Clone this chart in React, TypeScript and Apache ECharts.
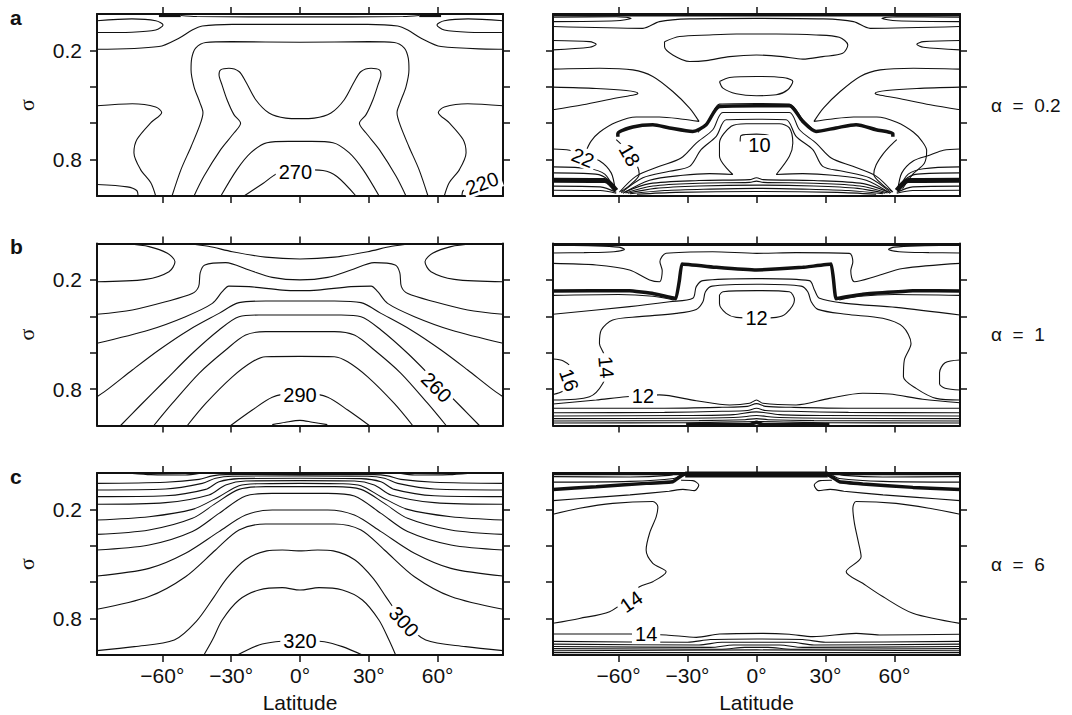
import React, { useEffect, useRef } from 'react';
import * as echarts from 'echarts';

type Pt = [number, number];
type Lab = { lat: number; sig: number; text: string; rot: number };
type Heavy = { pts: Pt[]; w: number; smooth?: number };

const FONT = '"Liberation Sans", Arial, Helvetica, sans-serif';

// ---- axes ----
const LAT_TICKS = [-60, -30, 0, 30, 60];
const SIGMA_TICKS = [0.2, 0.4, 0.6, 0.8];
const SIGMA_LABELS = [0.2, 0.8];
const PANEL_LETTERS = ['a', 'b', 'c'];
const ALPHA_LABELS = ['α  =  0.2', 'α  =  1', 'α  =  6'];

// ================= a, left (temperature) =================
const aL_top: Pt[] = [[-52, 0.008], [-45, 0.014], [0, 0.016], [45, 0.014], [52, 0.008]];
const aL_tongueW: Pt[] = [[-88.5, 0.037], [-73.3, 0.027], [-62.9, 0.037], [-59.7, 0.06], [-62.9, 0.088], [-73.3, 0.1], [-88.5, 0.102]];
const aL_tongueE: Pt[] = [[88.5, 0.037], [73.3, 0.027], [62.9, 0.037], [59.7, 0.06], [62.9, 0.088], [73.3, 0.1], [88.5, 0.102]];
const aL_upper: Pt[] = [[-88.5, 0.194], [-61.5, 0.179], [-52.8, 0.133], [-47, 0.088], [-42.6, 0.066], [-29.5, 0.057], [0, 0.057], [29.5, 0.057], [42.6, 0.066], [47, 0.088], [52.8, 0.133], [61.5, 0.179], [88.5, 0.194]];
const aL_meanderW: Pt[] = [[-88.5, 0.504], [-73.1, 0.493], [-62.9, 0.511], [-60.3, 0.541], [-65, 0.597], [-71.1, 0.69], [-72.4, 0.762], [-69.5, 0.855], [-65.1, 0.926], [-62.9, 1.0]];
const aL_meanderE: Pt[] = [[88.5, 0.504], [73.1, 0.493], [62.9, 0.511], [60.3, 0.541], [65, 0.597], [71.1, 0.69], [72.4, 0.762], [69.5, 0.855], [65.1, 0.926], [62.9, 1.0]];
const aL_loopW: Pt[] = [[-88.5, 0.937], [-75.3, 0.95], [-71.2, 0.97], [-70.6, 1.0]];
const aL_loopE: Pt[] = [[88.5, 0.937], [75.3, 0.95], [71.2, 0.97], [70.6, 1.0]];
const aL_arch: Pt[] = [[-55.8, 1.0], [-51.9, 0.855], [-47.5, 0.729], [-43.6, 0.608], [-42.3, 0.542], [-43.6, 0.488], [-46.2, 0.4], [-47.5, 0.307], [-47.2, 0.243], [-45.5, 0.188], [-41.1, 0.157], [-30, 0.152], [0, 0.155], [30, 0.152], [41.1, 0.157], [45.5, 0.188], [47.2, 0.243], [47.5, 0.307], [46.2, 0.4], [43.6, 0.488], [42.3, 0.542], [43.6, 0.608], [47.5, 0.729], [51.9, 0.855], [55.8, 1.0]];
const aL_x: Pt[] = [[-46.2, 1.0], [-41.9, 0.892], [-34.6, 0.745], [-28.8, 0.654], [-25.9, 0.6], [-28.8, 0.553], [-31.8, 0.471], [-34, 0.389], [-35.3, 0.334], [-34.6, 0.307], [-31, 0.298], [-26.6, 0.316], [-23.7, 0.371], [-19.3, 0.471], [-13.5, 0.544], [-6.2, 0.572], [0, 0.575], [6.2, 0.572], [13.5, 0.544], [19.3, 0.471], [23.7, 0.371], [26.6, 0.316], [31, 0.298], [34.6, 0.307], [35.3, 0.334], [34, 0.389], [31.8, 0.471], [28.8, 0.553], [25.9, 0.6], [28.8, 0.654], [34.6, 0.745], [41.9, 0.892], [46.2, 1.0]];
const aL_arch2: Pt[] = [[-34.5, 1.0], [-27.5, 0.855], [-21.4, 0.762], [-14.4, 0.707], [-5, 0.7], [5, 0.7], [14.4, 0.707], [21.4, 0.762], [27.5, 0.855], [34.5, 1.0]];
const aL_270: Pt[] = [[-24.4, 1.0], [-16, 0.93], [-10, 0.878], [0, 0.855], [10, 0.86], [16.1, 0.893], [24.4, 1.0]];
const aL_barW: Pt[] = [[-61.5, 0.006], [-52, 0.006]];
const aL_barE: Pt[] = [[52, 0.006], [61.5, 0.006]];
const aL_labels: Lab[] = [
  { lat: -2, sig: 0.866, text: '270', rot: 0 },
  { lat: 79.4, sig: 0.93, text: '220', rot: 20 },
];

// ================= a, right =================
const aR_topW: Pt[] = [[-88.5, 0.018], [-61, 0.015], [-54.5, 0.024], [-61, 0.037], [-88.5, 0.042]];
const aR_topE: Pt[] = [[88.5, 0.018], [61, 0.015], [54.5, 0.024], [61, 0.037], [88.5, 0.042]];
const aR_upper: Pt[] = [[-88.5, 0.069], [-49.4, 0.079], [-42.2, 0.042], [-29.1, 0.027], [0, 0.024], [29.1, 0.027], [42.2, 0.042], [49.4, 0.079], [88.5, 0.069]];
const aR_tongue1W: Pt[] = [[-88.5, 0.146], [-72.6, 0.152], [-69.7, 0.166], [-72.6, 0.183], [-88.5, 0.197]];
const aR_tongue1E: Pt[] = [[88.5, 0.146], [72.6, 0.152], [69.7, 0.166], [72.6, 0.183], [88.5, 0.197]];
const aR_cell: Pt[] = [[-40, 0.152], [-33.5, 0.124], [-20.4, 0.115], [-8.8, 0.11], [8.6, 0.11], [25.9, 0.115], [36, 0.128], [39.7, 0.17], [37.5, 0.216], [28.8, 0.234], [20.1, 0.248], [11.4, 0.234], [0, 0.225], [-11.7, 0.234], [-21.9, 0.256], [-29.1, 0.261], [-36.4, 0.225], [-40, 0.179], [-40, 0.152]];
const aR_cell2: Pt[] = [[-16.1, 0.371], [-11.7, 0.349], [0, 0.343], [11.4, 0.349], [15.8, 0.371], [13.6, 0.416], [8.6, 0.444], [0, 0.449], [-8.8, 0.438], [-14.6, 0.407], [-16.1, 0.371]];
const aR_tongue2W: Pt[] = [[-88.5, 0.402], [-69.7, 0.409], [-56.7, 0.42], [-51.6, 0.435], [-53, 0.444], [-61, 0.462], [-75.5, 0.499], [-88.5, 0.526]];
const aR_tongue2E: Pt[] = [[88.5, 0.402], [69.7, 0.409], [56.7, 0.42], [51.6, 0.435], [53, 0.444], [61, 0.462], [75.5, 0.499], [88.5, 0.526]];
const aR_bendW: Pt[] = [[-88.5, 0.303], [-68.3, 0.298], [-53.8, 0.307], [-45.1, 0.343], [-36.4, 0.426], [-29.1, 0.517], [-25, 0.59], [-32, 0.578], [-42.2, 0.566], [-52.3, 0.566], [-61, 0.595], [-68.3, 0.65], [-72, 0.7], [-74, 0.75]];
const aR_bendE: Pt[] = [[88.5, 0.303], [68.3, 0.298], [53.8, 0.307], [45.1, 0.343], [36.4, 0.426], [29.1, 0.517], [25, 0.59], [32, 0.578], [42.2, 0.566], [52.3, 0.566], [61, 0.595], [68.3, 0.65], [72, 0.7], [74, 0.75], [73, 0.82], [68, 0.88], [63.5, 0.96]];
const aR_22W: Pt[] = [[-88.5, 0.742], [-81.3, 0.749], [-75.5, 0.775], [-68.3, 0.806], [-63.2, 0.873], [-61.5, 0.964]];
const aR_22E: Pt[] = [[88.5, 0.742], [81.3, 0.749], [75.5, 0.775], [68.3, 0.806], [63.2, 0.873], [61.5, 0.964]];
const aR_18W: Pt[] = [[-61, 0.69], [-58.5, 0.72], [-55, 0.77], [-52, 0.83], [-51, 0.88], [-55, 0.94], [-59, 0.975]];
const aR_18E: Pt[] = [[61, 0.69], [58.5, 0.72], [55, 0.77], [52, 0.83], [51, 0.88], [55, 0.94], [59, 0.975]];
const aR_n0: Pt[] = [[-25.5, 0.65], [-20.4, 0.581], [-16.1, 0.495], [0, 0.492], [14.3, 0.495], [20.1, 0.581], [25.9, 0.65]];
const aR_n1: Pt[] = [[-59.6, 0.979], [-52.3, 0.891], [-42.2, 0.837], [-32.8, 0.791], [-26.2, 0.709], [-19, 0.636], [-14.6, 0.541], [0, 0.541], [14.3, 0.541], [18.7, 0.636], [25.9, 0.709], [32.5, 0.791], [41.9, 0.837], [52, 0.891], [59.3, 0.979]];
const aR_n2: Pt[] = [[-58.8, 0.983], [-49.4, 0.9], [-37.8, 0.864], [-29.1, 0.837], [-24.1, 0.745], [-17.5, 0.672], [-13.2, 0.581], [0, 0.578], [12.9, 0.581], [17.2, 0.672], [24.5, 0.745], [28.8, 0.837], [37.5, 0.864], [49.1, 0.9], [58.6, 0.983]];
const aR_n3: Pt[] = [[-58.1, 0.985], [-46.5, 0.913], [-32, 0.886], [-20.4, 0.877], [-10.3, 0.882], [-16.1, 0.782], [-16.1, 0.709], [-11, 0.617], [-4.5, 0.603], [0, 0.603], [10, 0.603], [14.3, 0.626], [15.8, 0.709], [14.3, 0.782], [8.6, 0.882], [20.1, 0.877], [33.2, 0.886], [47.7, 0.913], [58.1, 0.985]];
const aR_10: Pt[] = [[-7.1, 0.7], [-6.7, 0.668], [0, 0.66], [5.5, 0.668], [6.2, 0.69]];
const aR_h1: Pt[] = [[-57.5, 0.979], [-46.5, 0.932], [-25, 0.915], [-3, 0.91], [0, 0.9], [3, 0.91], [25, 0.915], [46.5, 0.932], [57.5, 0.979]];
const aR_h2: Pt[] = [[-57, 0.983], [-45, 0.945], [-25, 0.93], [-3, 0.925], [0, 0.918], [3, 0.925], [25, 0.93], [45, 0.945], [57, 0.983]];
const aR_h3: Pt[] = [[-56, 0.985], [-44, 0.958], [-25, 0.945], [0, 0.94], [25, 0.945], [44, 0.958], [56, 0.985]];
const aR_h4: Pt[] = [[-55, 0.988], [-40, 0.97], [-20, 0.962], [0, 0.958], [20, 0.962], [40, 0.97], [55, 0.988]];
const aR_h5: Pt[] = [[-52, 0.99], [-35, 0.98], [0, 0.975], [35, 0.98], [52, 0.99]];
const aR_f2W: Pt[] = [[-88.5, 0.84], [-72.6, 0.85], [-66, 0.88], [-62, 0.96]];
const aR_f3W: Pt[] = [[-88.5, 0.873], [-70, 0.88], [-64.5, 0.91], [-61.5, 0.97]];
const aR_f5W: Pt[] = [[-88.5, 0.946], [-68, 0.95], [-61, 0.98]];
const aR_f6W: Pt[] = [[-88.5, 0.968], [-68, 0.97], [-61, 0.985]];
const aR_f2E: Pt[] = [[88.5, 0.84], [72.6, 0.85], [66, 0.88], [62, 0.96]];
const aR_f3E: Pt[] = [[88.5, 0.873], [70, 0.88], [64.5, 0.91], [61.5, 0.97]];
const aR_f5E: Pt[] = [[88.5, 0.946], [68, 0.95], [61, 0.98]];
const aR_f6E: Pt[] = [[88.5, 0.968], [68, 0.97], [61, 0.985]];
const aR_thick: Pt[] = [[-60.3, 0.675], [-60.3, 0.658], [-53.8, 0.621], [-45.1, 0.608], [-37.8, 0.626], [-27.7, 0.645], [-21.9, 0.608], [-16.1, 0.508], [0, 0.504], [14.3, 0.504], [20.1, 0.59], [25.9, 0.645], [34.6, 0.626], [43.3, 0.608], [52, 0.636], [59.3, 0.658], [59.3, 0.675]];
const aR_bandW: Pt[] = [[-88.5, 0.913], [-66, 0.915], [-61, 0.97]];
const aR_bandE: Pt[] = [[88.5, 0.913], [66, 0.915], [61, 0.97]];
const aR_topEdge: Pt[] = [[-88.5, 0.005], [88.5, 0.005]];
const aR_labels: Lab[] = [
  { lat: -75.5, sig: 0.79, text: '22', rot: -22 },
  { lat: -55.2, sig: 0.775, text: '18', rot: -60 },
  { lat: 1.3, sig: 0.72, text: '10', rot: 0 },
];

// ================= b, left =================
const bL_top: Pt[] = [[-48.4, 0.003], [-40, 0.015], [-29.5, 0.045], [-15, 0.075], [0, 0.085], [15, 0.075], [29.5, 0.045], [40, 0.015], [48.4, 0.003]];
const bL_tongueW: Pt[] = [[-75.3, 0.003], [-65.8, 0.017], [-57.8, 0.054], [-54.5, 0.1], [-57.1, 0.155], [-67.3, 0.197], [-88.5, 0.21]];
const bL_tongueE: Pt[] = [[75.3, 0.003], [65.8, 0.017], [57.8, 0.054], [54.5, 0.1], [57.1, 0.155], [67.3, 0.197], [88.5, 0.21]];
const bL_l3: Pt[] = [[-88.5, 0.389], [-73.1, 0.365], [-58.6, 0.32], [-47, 0.275], [-44.2, 0.237], [-43.5, 0.16], [-41.5, 0.118], [-32.4, 0.105], [-22.2, 0.146], [-12.1, 0.186], [0, 0.2], [12.1, 0.186], [22.2, 0.146], [32.4, 0.105], [41.5, 0.118], [43.5, 0.16], [44.2, 0.237], [47, 0.275], [58.6, 0.32], [73.1, 0.365], [88.5, 0.389]];
const bL_l4: Pt[] = [[-88.5, 0.548], [-65.8, 0.475], [-49.9, 0.402], [-38.2, 0.329], [-33.9, 0.265], [-31, 0.234], [-22.2, 0.237], [-7.7, 0.256], [0, 0.259], [7.7, 0.256], [22.2, 0.237], [31, 0.234], [33.9, 0.265], [38.2, 0.329], [49.9, 0.402], [65.8, 0.475], [88.5, 0.548]];
const bL_l5: Pt[] = [[-88.5, 0.842], [-83.3, 0.796], [-73.1, 0.695], [-61.5, 0.585], [-48.4, 0.475], [-35.3, 0.384], [-26.6, 0.325], [-15, 0.316], [0, 0.316], [15, 0.316], [26.6, 0.325], [35.3, 0.384], [48.4, 0.475], [61.5, 0.585], [73.1, 0.695], [83.3, 0.796], [88.5, 0.842]];
const bL_l6: Pt[] = [[-78.2, 1.0], [-70.2, 0.897], [-58.6, 0.75], [-46.9, 0.603], [-35.3, 0.475], [-26.6, 0.402], [-17.9, 0.393], [0, 0.393], [17.9, 0.393], [26.6, 0.402], [35.3, 0.475], [46.9, 0.603], [58.6, 0.75], [70.2, 0.897], [78.2, 1.0]];
const bL_l7: Pt[] = [[-63.7, 1.0], [-55.7, 0.879], [-44, 0.713], [-32.4, 0.585], [-23.7, 0.503], [-15, 0.484], [0, 0.484], [15, 0.484], [23.7, 0.503], [32.4, 0.585], [44, 0.713], [55.7, 0.879], [63.7, 1.0]];
const bL_l8: Pt[] = [[-49.1, 1.0], [-41.1, 0.879], [-29.5, 0.733], [-20.8, 0.65], [-15, 0.622], [0, 0.62], [15, 0.622], [20.8, 0.65], [29.5, 0.733], [41.1, 0.879], [49.1, 1.0]];
const bL_290: Pt[] = [[-30.2, 1.0], [-20.8, 0.915], [-12.1, 0.845], [-4, 0.825], [4, 0.825], [12.1, 0.845], [20.8, 0.915], [30.2, 1.0]];
const bL_bump: Pt[] = [[-12.1, 0.995], [-6.3, 0.982], [0, 0.972], [5.4, 0.982], [11.9, 0.995]];
const bL_labels: Lab[] = [
  { lat: 0, sig: 0.83, text: '290', rot: 0 },
  { lat: 59.5, sig: 0.79, text: '260', rot: -45 },
];

// ================= b, right =================
const bR_tongueW: Pt[] = [[-88.5, 0.01], [-70, 0.013], [-60, 0.02], [-57.4, 0.032], [-62, 0.045], [-75, 0.05], [-88.5, 0.052]];
const bR_tongueE: Pt[] = [[88.5, 0.01], [70, 0.013], [60, 0.02], [57.4, 0.032], [62, 0.045], [75, 0.05], [88.5, 0.052]];
const bR_outer: Pt[] = [[-88.5, 0.109], [-69.7, 0.118], [-55.2, 0.146], [-46.5, 0.2], [-42.2, 0.21], [-41, 0.15], [-42, 0.1], [-39.3, 0.054], [-19, 0.045], [0, 0.054], [17.2, 0.05], [40.4, 0.054], [41.9, 0.1], [41, 0.15], [42.6, 0.21], [52, 0.18], [63.6, 0.137], [88.5, 0.109]];
const bR_inner: Pt[] = [[-88.5, 0.389], [-55.2, 0.347], [-37.8, 0.32], [-27.7, 0.301], [-26.2, 0.237], [-23.3, 0.204], [0, 0.193], [23, 0.204], [25.2, 0.255], [27.4, 0.301], [39, 0.329], [60.7, 0.351], [88.5, 0.393]];
const bR_belowW: Pt[] = [[-88.5, 0.285], [-60, 0.28], [-45, 0.29], [-36, 0.31]];
const bR_belowE: Pt[] = [[88.5, 0.285], [60, 0.28], [45, 0.29], [36, 0.31]];
const bR_12top: Pt[] = [[-16.1, 0.283], [-14.6, 0.265], [0, 0.259], [14.3, 0.265], [16.5, 0.31], [12.9, 0.384], [8.6, 0.406], [0, 0.41], [-8.8, 0.406], [-13.2, 0.384], [-16.1, 0.33], [-16.1, 0.283]];
const bR_14: Pt[] = [[-88.5, 0.86], [-72.6, 0.842], [-66.8, 0.768], [-65.1, 0.677], [-66.5, 0.603], [-68.3, 0.549], [-67.5, 0.475], [-62.5, 0.42], [-50.9, 0.402], [-34.9, 0.384], [-26.2, 0.362], [-23.3, 0.32], [-22.2, 0.265], [-19.3, 0.234], [0, 0.224], [19.4, 0.234], [22.3, 0.265], [23.8, 0.32], [26.7, 0.362], [39, 0.389], [54.9, 0.411], [63.6, 0.457], [67.2, 0.549], [64.3, 0.64], [63.9, 0.732], [69.4, 0.796], [78.1, 0.851], [88.5, 0.86]];
const bR_16W: Pt[] = [[-88.5, 0.635], [-84, 0.645], [-80.5, 0.68], [-79.5, 0.72], [-80.5, 0.77], [-84, 0.81], [-88.5, 0.83]];
const bR_16E: Pt[] = [[88.5, 0.64], [82, 0.655], [79.6, 0.71], [79.6, 0.77], [82, 0.795], [88.5, 0.805]];
const bR_12: Pt[] = [[-88.5, 0.882], [-69.7, 0.86], [-56.7, 0.842], [-42.2, 0.832], [-26.2, 0.864], [-11.7, 0.887], [-3, 0.878], [0, 0.86], [2.8, 0.878], [17.2, 0.887], [31.7, 0.851], [46.2, 0.823], [57.8, 0.827], [72.3, 0.856], [88.5, 0.875]];
const bR_h1: Pt[] = [[-88.5, 0.905], [-40, 0.905], [-15, 0.9], [-4, 0.895], [0, 0.88], [4, 0.895], [15, 0.9], [40, 0.905], [88.5, 0.905]];
const bR_h2: Pt[] = [[-88.5, 0.93], [-40, 0.928], [-15, 0.922], [-4, 0.918], [0, 0.905], [4, 0.918], [15, 0.922], [40, 0.928], [88.5, 0.93]];
const bR_h3: Pt[] = [[-88.5, 0.948], [-30, 0.945], [-10, 0.94], [0, 0.925], [10, 0.94], [30, 0.945], [88.5, 0.948]];
const bR_h4: Pt[] = [[-88.5, 0.962], [-30, 0.96], [-8, 0.955], [0, 0.945], [8, 0.955], [30, 0.96], [88.5, 0.962]];
const bR_h5: Pt[] = [[-88.5, 0.975], [-25, 0.973], [-5, 0.968], [0, 0.962], [5, 0.968], [25, 0.973], [88.5, 0.975]];
const bR_h6: Pt[] = [[-88.5, 0.986], [-30, 0.985], [0, 0.978], [30, 0.985], [88.5, 0.986]];
const bR_thick: Pt[] = [[-88.5, 0.261], [-55.2, 0.259], [-45, 0.275], [-35, 0.303], [-33.5, 0.2], [-32.5, 0.113], [-17.5, 0.131], [0, 0.146], [20.1, 0.131], [32.5, 0.113], [33.5, 0.2], [34.5, 0.303], [46.2, 0.279], [68, 0.259], [88.5, 0.261]];
const bR_bottomBar: Pt[] = [[-30.6, 0.995], [-3, 0.995], [0, 0.982], [3, 0.995], [31.7, 0.995]];
const bR_topEdge: Pt[] = [[-88.5, 0.005], [88.5, 0.005]];
const bR_labels: Lab[] = [
  { lat: 0, sig: 0.41, text: '12', rot: 0 },
  { lat: -65.4, sig: 0.68, text: '14', rot: -85 },
  { lat: -81.5, sig: 0.75, text: '16', rot: -70 },
  { lat: -49.4, sig: 0.84, text: '12', rot: 0 },
];

// ================= c, left =================
const cL_topW: Pt[] = [[-73.1, 0.002], [-65, 0.009], [-50, 0.011], [-44, 0.002]];
const cL_topE: Pt[] = [[73.1, 0.002], [65, 0.009], [50, 0.011], [44, 0.002]];
const cL_1: Pt[] = [[-88.5, 0.057], [-58.6, 0.051], [-44, 0.035], [-38.2, 0.016], [-32.4, 0.009], [0, 0.008], [32.4, 0.009], [38.2, 0.016], [44, 0.035], [58.6, 0.051], [88.5, 0.057]];
const cL_2: Pt[] = [[-88.5, 0.093], [-58.6, 0.088], [-42.6, 0.057], [-36.8, 0.029], [-29.5, 0.018], [0, 0.016], [29.5, 0.018], [36.8, 0.029], [42.6, 0.057], [58.6, 0.088], [88.5, 0.093]];
const cL_3: Pt[] = [[-88.5, 0.13], [-58.6, 0.125], [-41.1, 0.09], [-35.3, 0.048], [-26.6, 0.031], [0, 0.029], [26.6, 0.031], [35.3, 0.048], [41.1, 0.09], [58.6, 0.125], [88.5, 0.13]];
const cL_4: Pt[] = [[-88.5, 0.172], [-58.6, 0.163], [-39.7, 0.121], [-32.4, 0.066], [-23.7, 0.044], [0, 0.042], [23.7, 0.044], [32.4, 0.066], [39.7, 0.121], [58.6, 0.163], [88.5, 0.172]];
const cL_5: Pt[] = [[-88.5, 0.258], [-65.8, 0.24], [-46.9, 0.2], [-35.3, 0.13], [-26.6, 0.07], [-17.9, 0.059], [0, 0.057], [17.9, 0.059], [26.6, 0.07], [35.3, 0.13], [46.9, 0.2], [65.8, 0.24], [88.5, 0.258]];
const cL_6: Pt[] = [[-88.5, 0.337], [-65.8, 0.313], [-46.9, 0.249], [-36.8, 0.167], [-26.6, 0.09], [-15, 0.075], [0, 0.075], [15, 0.075], [26.6, 0.09], [36.8, 0.167], [46.9, 0.249], [65.8, 0.313], [88.5, 0.337]];
const cL_7: Pt[] = [[-88.5, 0.423], [-65.8, 0.396], [-46.9, 0.322], [-35.3, 0.222], [-23.7, 0.126], [-12.1, 0.112], [0, 0.112], [12.1, 0.112], [23.7, 0.126], [35.3, 0.222], [46.9, 0.322], [65.8, 0.396], [88.5, 0.423]];
const cL_8: Pt[] = [[-88.5, 0.566], [-65.8, 0.524], [-49.9, 0.441], [-35.3, 0.322], [-23.7, 0.231], [-12.1, 0.203], [0, 0.203], [12.1, 0.203], [23.7, 0.231], [35.3, 0.322], [49.9, 0.441], [65.8, 0.524], [88.5, 0.566]];
const cL_9: Pt[] = [[-88.5, 0.749], [-65.8, 0.679], [-49.9, 0.57], [-36.8, 0.423], [-26.6, 0.313], [-15, 0.28], [0, 0.28], [15, 0.28], [26.6, 0.313], [36.8, 0.423], [49.9, 0.57], [65.8, 0.679], [88.5, 0.749]];
const cL_300: Pt[] = [[-88.5, 0.976], [-72.2, 0.954], [-54.8, 0.918], [-45.3, 0.817], [-37.4, 0.679], [-32, 0.58], [-24, 0.478], [-14.5, 0.428], [-7.7, 0.423], [0, 0.428], [7.7, 0.423], [14.5, 0.428], [24, 0.478], [32, 0.58], [37.4, 0.679], [45.3, 0.817], [54.8, 0.918], [72.2, 0.954], [88.5, 0.976]];
const cL_11: Pt[] = [[-41.9, 1.0], [-38.2, 0.918], [-33.9, 0.808], [-26.6, 0.698], [-17.9, 0.643], [-7.7, 0.63], [0, 0.643], [8.3, 0.63], [18.5, 0.643], [27.2, 0.698], [34.4, 0.808], [38.8, 0.918], [41.7, 1.0]];
const cL_320: Pt[] = [[-27.3, 1.0], [-17.9, 0.945], [-10.6, 0.927], [0, 0.92], [10.6, 0.927], [18.5, 0.954], [27.2, 1.0]];
const cL_labels: Lab[] = [
  { lat: 0, sig: 0.925, text: '320', rot: 0 },
  { lat: 45.3, sig: 0.817, text: '300', rot: -48 },
];

// ================= c, right =================
const cR_1aW: Pt[] = [[-88.5, 0.02], [-55, 0.022], [-38, 0.013], [-35, 0.002]];
const cR_1aE: Pt[] = [[88.5, 0.02], [55, 0.022], [38, 0.013], [35, 0.002]];
const cR_1bW: Pt[] = [[-88.5, 0.05], [-55, 0.046], [-36, 0.03], [-33, 0.012]];
const cR_1bE: Pt[] = [[88.5, 0.05], [55, 0.046], [36, 0.03], [33, 0.012]];
const cR_2W: Pt[] = [[-88.5, 0.152], [-69.7, 0.134], [-55, 0.12], [-38, 0.1], [-32, 0.09], [-27, 0.097], [-25.1, 0.066], [-27.7, 0.042], [-32.8, 0.04]];
const cR_2E: Pt[] = [[88.5, 0.152], [69.7, 0.134], [55, 0.12], [38, 0.1], [32, 0.09], [27, 0.097], [25.1, 0.066], [27.7, 0.042], [32.8, 0.04]];
const cR_14W: Pt[] = [[-88.5, 0.227], [-77, 0.194], [-62.5, 0.167], [-45.1, 0.157], [-42.9, 0.185], [-43.6, 0.24], [-46.5, 0.331], [-48, 0.423], [-45.1, 0.496], [-39.3, 0.542], [-45.1, 0.597], [-50.9, 0.625], [-55, 0.68], [-63.9, 0.762], [-77, 0.799], [-88.5, 0.826]];
const cR_14E: Pt[] = [[88.5, 0.227], [75.2, 0.194], [60.7, 0.167], [43.3, 0.157], [41.9, 0.194], [42.6, 0.277], [44.1, 0.368], [45.5, 0.46], [39, 0.542], [46.2, 0.606], [54.9, 0.679], [68, 0.771], [88.5, 0.826]];
const cR_14low: Pt[] = [[-88.5, 0.885], [-55.2, 0.885], [-39.3, 0.89], [-26.2, 0.903], [-16.1, 0.885], [2.8, 0.881], [14.3, 0.886], [24.5, 0.899], [43.3, 0.881], [53.5, 0.89], [88.5, 0.886]];
const cR_h1: Pt[] = [[-88.5, 0.925], [-30, 0.93], [-20, 0.915], [0, 0.912], [20, 0.915], [30, 0.93], [88.5, 0.925]];
const cR_h2: Pt[] = [[-88.5, 0.94], [-25, 0.945], [-15, 0.93], [15, 0.93], [25, 0.945], [88.5, 0.94]];
const cR_h3: Pt[] = [[-88.5, 0.953], [-20, 0.958], [-10, 0.945], [10, 0.945], [20, 0.958], [88.5, 0.953]];
const cR_h4: Pt[] = [[-88.5, 0.965], [-15, 0.968], [-5, 0.958], [5, 0.958], [15, 0.968], [88.5, 0.965]];
const cR_h5: Pt[] = [[-88.5, 0.977], [0, 0.972], [88.5, 0.977]];
const cR_h6: Pt[] = [[-88.5, 0.987], [88.5, 0.987]];
const cR_thick: Pt[] = [[-88.5, 0.09], [-69.7, 0.075], [-48, 0.057], [-36.4, 0.048], [-32.8, 0.016], [-30.6, 0.004], [30.3, 0.004], [32.5, 0.02], [36.1, 0.048], [46.2, 0.06], [68, 0.079], [88.5, 0.09]];
const cR_topBar: Pt[] = [[-31, 0.008], [31, 0.008]];
const cR_topEdge: Pt[] = [[-88.5, 0.004], [88.5, 0.004]];
const cR_labels: Lab[] = [
  { lat: -54.5, sig: 0.707, text: '14', rot: 35 },
  { lat: -48, sig: 0.885, text: '14', rot: 0 },
];

// panel order: aL, aR, bL, bR, cL, cR
const PANELS: { lines: Pt[][]; heavy: Heavy[]; labels: Lab[] }[] = [
  {
    lines: [aL_top, aL_tongueW, aL_tongueE, aL_upper, aL_meanderW, aL_meanderE, aL_loopW, aL_loopE, aL_arch, aL_x, aL_arch2, aL_270],
    heavy: [{ pts: aL_barW, w: 4 }, { pts: aL_barE, w: 4 }],
    labels: aL_labels,
  },
  {
    lines: [aR_topW, aR_topE, aR_upper, aR_tongue1W, aR_tongue1E, aR_cell, aR_cell2, aR_tongue2W, aR_tongue2E, aR_bendW, aR_bendE, aR_22W, aR_22E, aR_18W, aR_18E, aR_n0, aR_n1, aR_n2, aR_n3, aR_10, aR_h1, aR_h2, aR_h3, aR_h4, aR_h5, aR_f2W, aR_f3W, aR_f5W, aR_f6W, aR_f2E, aR_f3E, aR_f5E, aR_f6E],
    heavy: [{ pts: aR_thick, w: 3.5 }, { pts: aR_bandW, w: 5 }, { pts: aR_bandE, w: 5 }, { pts: aR_topEdge, w: 3 }],
    labels: aR_labels,
  },
  {
    lines: [bL_top, bL_tongueW, bL_tongueE, bL_l3, bL_l4, bL_l5, bL_l6, bL_l7, bL_l8, bL_290, bL_bump],
    heavy: [],
    labels: bL_labels,
  },
  {
    lines: [bR_tongueW, bR_tongueE, bR_outer, bR_inner, bR_belowW, bR_belowE, bR_12top, bR_14, bR_16W, bR_16E, bR_12, bR_h1, bR_h2, bR_h3, bR_h4, bR_h5, bR_h6],
    heavy: [{ pts: bR_thick, w: 3.5, smooth: 0.05 }, { pts: bR_bottomBar, w: 3.5, smooth: 0 }, { pts: bR_topEdge, w: 3 }],
    labels: bR_labels,
  },
  {
    lines: [cL_topW, cL_topE, cL_1, cL_2, cL_3, cL_4, cL_5, cL_6, cL_7, cL_8, cL_9, cL_300, cL_11, cL_320],
    heavy: [],
    labels: cL_labels,
  },
  {
    lines: [cR_1aW, cR_1aE, cR_1bW, cR_1bE, cR_2W, cR_2E, cR_14W, cR_14E, cR_14low, cR_h1, cR_h2, cR_h3, cR_h4, cR_h5, cR_h6],
    heavy: [{ pts: cR_thick, w: 3.5, smooth: 0.1 }, { pts: cR_topBar, w: 6, smooth: 0 }, { pts: cR_topEdge, w: 3, smooth: 0 }],
    labels: cR_labels,
  },
];

// layout
const GRID_LEFTS = [97, 553];
const GRID_WIDTHS = [406, 407];
const GRID_TOPS = [14, 243.5, 473];
const GRID_H = 182;
const INK = '#111';

function latFmt(v: number) {
  if (v < 0) return '\u2212' + Math.abs(v) + '°';
  return v + '°';
}

function buildOption() {
  const grid: any[] = [];
  const xAxis: any[] = [];
  const yAxis: any[] = [];
  const series: any[] = [];
  const axisLine = { show: true, onZero: false, lineStyle: { color: INK, width: 2 } };

  PANELS.forEach((panel, p) => {
    const row = Math.floor(p / 2);
    const col = p % 2;
    grid.push({ left: GRID_LEFTS[col], top: GRID_TOPS[row], width: GRID_WIDTHS[col], height: GRID_H, containLabel: false });
    const xBase = {
      type: 'value', gridIndex: p, min: -88.5, max: 88.5,
      axisLine,
      axisTick: { show: true, inside: false, length: 7, lineStyle: { color: INK, width: 1.5 }, customValues: LAT_TICKS },
      splitLine: { show: false },
    };
    xAxis.push({
      ...xBase, position: 'bottom',
      axisLabel: row === 2
        ? { show: true, customValues: LAT_TICKS, formatter: latFmt, fontSize: 21, color: INK, margin: 10, fontFamily: FONT }
        : { show: false },
      name: row === 2 ? 'Latitude' : '',
      nameLocation: 'middle', nameGap: 37,
      nameTextStyle: { fontSize: 21, color: INK, fontFamily: FONT },
    });
    xAxis.push({ ...xBase, position: 'top', axisLabel: { show: false } });
    const yBase = {
      type: 'value', gridIndex: p, min: 0, max: 1, inverse: true,
      axisLine,
      axisTick: { show: true, inside: false, length: 7, lineStyle: { color: INK, width: 1.5 }, customValues: SIGMA_TICKS },
      splitLine: { show: false },
    };
    yAxis.push({
      ...yBase, position: 'left',
      axisLabel: col === 0
        ? { show: true, customValues: SIGMA_LABELS, formatter: (v: number) => v.toFixed(1), fontSize: 21, color: INK, margin: 15, fontFamily: FONT }
        : { show: false },
      name: col === 0 ? 'σ' : '',
      nameLocation: 'middle', nameRotate: 90, nameGap: 60,
      nameTextStyle: { fontSize: 22, color: INK, fontFamily: '"Liberation Serif", "DejaVu Serif", serif' },
    });
    yAxis.push({ ...yBase, position: 'right', axisLabel: { show: false } });

    const xi = 2 * p;
    const yi = 2 * p;
    panel.lines.forEach((pts) => {
      series.push({
        type: 'line', xAxisIndex: xi, yAxisIndex: yi, data: pts,
        showSymbol: false, symbol: 'none', smooth: 0.3, silent: true, z: 3,
        lineStyle: { color: INK, width: 1.1 },
      });
    });
    panel.heavy.forEach((h) => {
      series.push({
        type: 'line', xAxisIndex: xi, yAxisIndex: yi, data: h.pts,
        showSymbol: false, symbol: 'none', smooth: h.smooth ?? 0.25, silent: true, z: 4,
        lineStyle: { color: INK, width: h.w },
      });
    });
    if (panel.labels.length) {
      series.push({
        type: 'scatter', xAxisIndex: xi, yAxisIndex: yi, symbolSize: 2, silent: true, z: 10,
        itemStyle: { color: '#ffffff', opacity: 1 },
        data: panel.labels.map((l) => ({ value: [l.lat, l.sig], name: l.text, label: { rotate: l.rot } })),
        label: {
          show: true, position: 'inside', formatter: '{b}', fontSize: 20, color: '#000',
          opacity: 1, textBorderWidth: 0, textBorderColor: 'transparent',
          align: 'center', verticalAlign: 'middle',
          backgroundColor: '#fff', padding: [0, 3], fontFamily: FONT,
        },
        emphasis: { disabled: true },
      });
    }
  });

  const graphic: any[] = [];
  PANEL_LETTERS.forEach((t, r) => {
    graphic.push({
      type: 'text', x: 10, y: GRID_TOPS[r] + 3,
      style: { text: t, font: `bold 21px ${FONT}`, fill: INK, verticalAlign: 'middle' },
    });
  });
  ALPHA_LABELS.forEach((t, r) => {
    graphic.push({
      type: 'text', x: 991, y: GRID_TOPS[r] + GRID_H / 2,
      style: { text: t, font: `19px ${FONT}`, fill: INK, verticalAlign: 'middle' },
    });
  });

  return { animation: false, backgroundColor: '#fff', grid, xAxis, yAxis, series, graphic };
}

export default function App() {
  const ref = useRef<HTMLDivElement>(null);
  useEffect(() => {
    if (!ref.current) return;
    const chart = echarts.init(ref.current, null, { renderer: 'svg' });
    chart.setOption(buildOption() as any);
    return () => chart.dispose();
  }, []);
  return (
    <div
      ref={ref}
      style={{ position: 'fixed', left: 0, top: 0, width: 1072, height: 715, background: '#fff' }}
    />
  );
}
